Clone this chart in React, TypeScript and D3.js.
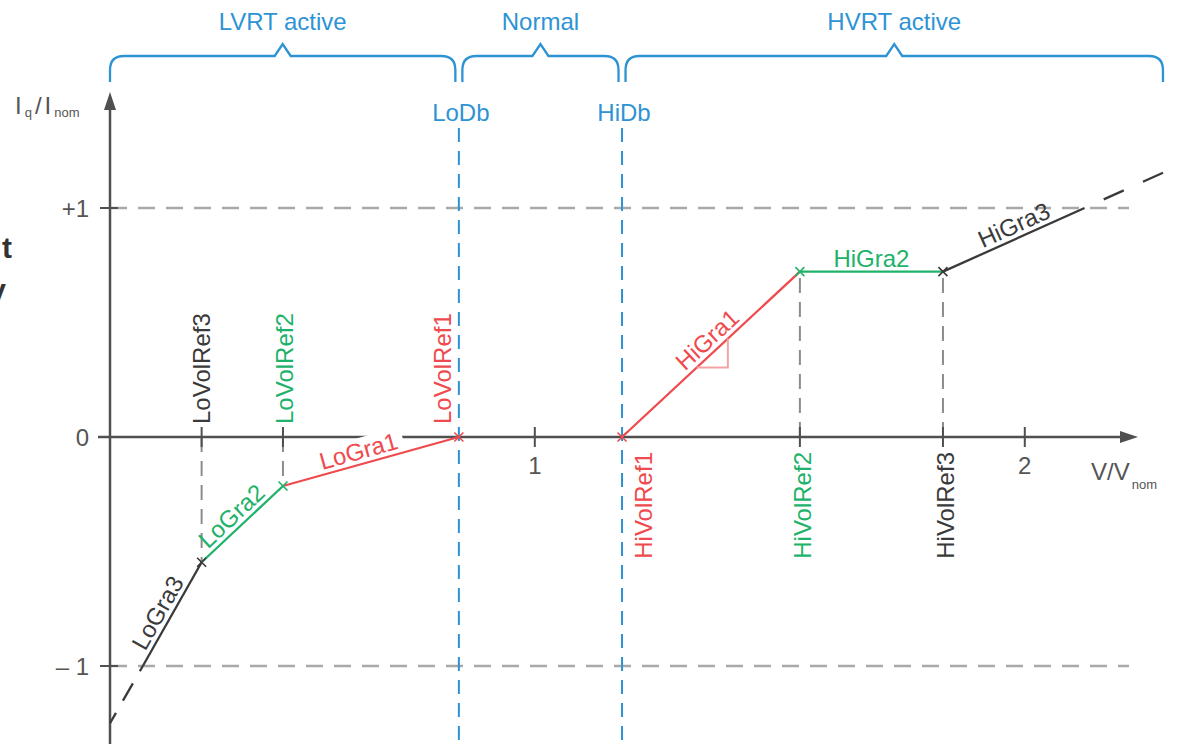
import React from 'react'
import * as d3 from 'd3'

const W = 1180
const H = 744

const BLUE = '#2e93d4'
const RED = '#ef4a4d'
const GREEN = '#20b26a'
const DARK = '#3a3a3a'
const AXIS = '#505050'

// reference points of the characteristic (V/Vnom -> Iq/Inom)
const refNames = ['LoVolRef3', 'LoVolRef2', 'LoVolRef1', 'HiVolRef1', 'HiVolRef2', 'HiVolRef3']
const refVolt = [0.32, 0.486, 0.845, 1.178, 1.541, 1.833]
const refCurr = [-0.547, -0.214, 0, 0, 0.722, 0.722]
const refColor = [DARK, GREEN, RED, RED, GREEN, DARK]

// whole curve incl. the dashed extensions at both ends
const curveVolt = [0.133, 0.2, ...refVolt, 2.122, 2.286]
const curveCurr = [-1.25, -1, ...refCurr, 1, 1.158]
const segNames = ['', 'LoGra3', 'LoGra2', 'LoGra1', '', 'HiGra1', 'HiGra2', 'HiGra3', '']
const segColor = [DARK, DARK, GREEN, RED, null, RED, GREEN, DARK, DARK]
const segLabelAt = [0, 0.45, 0.48, 0.45, 0, 0.53, 0.5, 0.54, 0]

const xTicks = [1, 2]
const yTicks = [-1, 0, 1]
const yTickLabels = ['\u2013 1', '0', '+1']
const limitLevels = [-1, 1]

const zoneNames = ['LVRT active', 'Normal', 'HVRT active']
const zoneEdges = [0.133, 0.845, 1.178, 2.282]
const deadbands = ['LoDb', 'HiDb']
const deadbandVolt = [0.845, 1.178]

const FONT = 'Liberation Sans, Arial, sans-serif'

function bracePath(x0: number, x1: number, top: number, bottom: number) {
  const p = d3.path()
  const r = 14
  const mid = (x0 + x1) / 2
  p.moveTo(x0, bottom)
  p.lineTo(x0, top + r)
  p.quadraticCurveTo(x0, top, x0 + r, top)
  p.lineTo(mid - 8, top)
  p.lineTo(mid, top - 12)
  p.lineTo(mid + 8, top)
  p.lineTo(x1 - r, top)
  p.quadraticCurveTo(x1, top, x1, top + r)
  p.lineTo(x1, bottom)
  return p.toString()
}

export default function App() {
  const x = d3.scaleLinear().domain([0.133, 2.229]).range([110, 1137])
  const y = d3.scaleLinear().domain([-1, 1]).range([666, 208])
  const x0 = x.range()[0]
  const xEnd = x.range()[1]
  const y0 = y(0)

  const pts = curveVolt.map((v, i) => [x(v), y(curveCurr[i])] as [number, number])
  const line = d3.line()
  const last = segColor.length - 1

  return (
    <svg width={W} height={H} style={{ position: 'fixed', left: 0, top: 0, background: '#fff' }} fontFamily={FONT}>
      <rect width={W} height={H} fill="#fff" />

      {/* cropped fragments at the left edge */}
      <text x={12} y={258} fontSize={30} fontWeight="bold" fill="#333" textAnchor="end">t</text>
      <text x={6} y={300} fontSize={30} fontWeight="bold" fill="#333" textAnchor="end">y</text>

      {/* zone braces */}
      {zoneNames.map((z, i) => {
        const a = x(zoneEdges[i]) + (i === 0 ? 0 : 3.5)
        const b = x(zoneEdges[i + 1]) - (i === 2 ? 0 : 3.5)
        return (
          <g key={z}>
            <path d={bracePath(a, b, 56, 82)} fill="none" stroke={BLUE} strokeWidth={2.3} />
            <text x={(a + b) / 2} y={30} fontSize={24} fill={BLUE} textAnchor="middle">{z}</text>
          </g>
        )
      })}

      {/* limit lines +1 / -1 */}
      {limitLevels.map(l => (
        <line key={l} x1={x0} x2={1129} y1={y(l)} y2={y(l)} stroke="#a9a9a9" strokeWidth={2.5} strokeDasharray="17,11" />
      ))}

      {/* deadband lines */}
      {deadbands.map((d, i) => (
        <g key={d}>
          <line x1={x(deadbandVolt[i])} x2={x(deadbandVolt[i])} y1={128} y2={H} stroke={BLUE} strokeWidth={2} strokeDasharray="14,9" />
          <text x={x(deadbandVolt[i]) + 2} y={121} fontSize={24} fill={BLUE} textAnchor="middle">{d}</text>
        </g>
      ))}

      {/* drop lines from reference points */}
      {refNames.map((n, i) => refCurr[i] === 0 ? null : (
        <line key={n} x1={x(refVolt[i])} x2={x(refVolt[i])} y1={y0} y2={y(refCurr[i])} stroke="#8c8c8c" strokeWidth={2} strokeDasharray="15,9" />
      ))}

      {/* axes */}
      <line x1={x0} x2={x0} y1={H} y2={104} stroke={AXIS} strokeWidth={2.5} />
      <path d={`M${x0},92L${x0 - 6},110L${x0 + 6},110Z`} fill={AXIS} />
      <line x1={98} x2={xEnd - 12} y1={y0} y2={y0} stroke={AXIS} strokeWidth={2.5} />
      <path d={`M${xEnd + 1},${y0}L${xEnd - 17},${y0 - 6}L${xEnd - 17},${y0 + 6}Z`} fill={AXIS} />

      {yTicks.map((t, i) => (
        <g key={t}>
          {t !== 0 && <line x1={x0 - 10} x2={x0 + 8} y1={y(t)} y2={y(t)} stroke={AXIS} strokeWidth={2} />}
          <text x={89} y={y(t)} dy="0.36em" fontSize={24} fill="#555" textAnchor="end">{yTickLabels[i]}</text>
        </g>
      ))}
      {xTicks.map(t => (
        <g key={t}>
          <line x1={x(t)} x2={x(t)} y1={y0 - 10} y2={y0 + 10} stroke={AXIS} strokeWidth={2} />
          <text x={x(t)} y={474} fontSize={24} fill="#555" textAnchor="middle">{t}</text>
        </g>
      ))}
      {refNames.map((n, i) => refCurr[i] === 0 ? null : (
        <line key={n} x1={x(refVolt[i])} x2={x(refVolt[i])} y1={y0 - 10} y2={y0 + 10} stroke={AXIS} strokeWidth={2} />
      ))}

      {/* axis titles */}
      <text x={15} y={114} fontSize={24} fill="#555">
        I<tspan fontSize={13} dx={3} dy={3}>q</tspan><tspan fontSize={24} dx={3} dy={-3}>/</tspan><tspan fontSize={24} dx={3}>I</tspan><tspan fontSize={13} dx={3} dy={3}>nom</tspan>
      </text>
      <text x={1091} y={480} fontSize={24} fill="#555">
        V/V<tspan fontSize={13} dx={2} dy={9}>nom</tspan>
      </text>

      {/* LoGra1 label background cuts the axis */}
      {(() => {
        const i = 3
        const [ax, ay] = pts[i], [bx, by] = pts[i + 1]
        const ang = Math.atan2(by - ay, bx - ax) * 180 / Math.PI
        const t = segLabelAt[i]
        return <rect transform={`translate(${ax + t * (bx - ax)},${ay + t * (by - ay)}) rotate(${ang})`} x={-46} y={-26} width={92} height={22} fill="#fff" />
      })()}

      {/* curve segments */}
      {segColor.map((c, i) => c === null ? null : (
        <path key={i} d={line([pts[i], pts[i + 1]]) || ''} fill="none" stroke={c} strokeWidth={2.3}
          strokeDasharray={i === 0 ? '20,14' : i === last ? '22,21' : undefined}
          strokeDashoffset={i === last ? 22 : i === 0 ? 8 : undefined} />
      ))}

      {/* slope triangle on HiGra1 */}
      {(() => {
        const [ax, ay] = pts[5], [bx, by] = pts[6]
        const k = (by - ay) / (bx - ax)
        const u = ax + 0.42 * (bx - ax)
        const v = ax + 0.595 * (bx - ax)
        const yu = ay + k * (u - ax)
        const yv = ay + k * (v - ax)
        return <path d={`M${u},${yu}L${v},${yu}L${v},${yv}`} fill="none" stroke="#f4a3a4" strokeWidth={2} />
      })()}

      {/* segment labels */}
      {segNames.map((n, i) => {
        if (!n) return null
        const [ax, ay] = pts[i], [bx, by] = pts[i + 1]
        const ang = Math.atan2(by - ay, bx - ax) * 180 / Math.PI
        const t = segLabelAt[i]
        return (
          <text key={n} transform={`translate(${ax + t * (bx - ax)},${ay + t * (by - ay)}) rotate(${ang})`}
            dy={-5} fontSize={24} fill={segColor[i] || DARK} textAnchor="middle">{n}</text>
        )
      })}

      {/* reference markers and labels */}
      {refNames.map((n, i) => {
        const px = x(refVolt[i])
        const py = y(refCurr[i])
        const lo = i < 3
        const off = [0, 1, -17, 21, 2, 2][i]
        return (
          <g key={n}>
            <path d={`M${px - 4.5},${py - 4.5}L${px + 4.5},${py + 4.5}M${px - 4.5},${py + 4.5}L${px + 4.5},${py - 4.5}`} stroke={refColor[i]} strokeWidth={1.6} />
            <text transform={`translate(${px + off},${lo ? y0 - 13 : y0 + 15}) rotate(-90)`} dy="0.36em"
              fontSize={24} fill={refColor[i]} textAnchor={lo ? 'start' : 'end'}>{n}</text>
          </g>
        )
      })}
    </svg>
  )
}
